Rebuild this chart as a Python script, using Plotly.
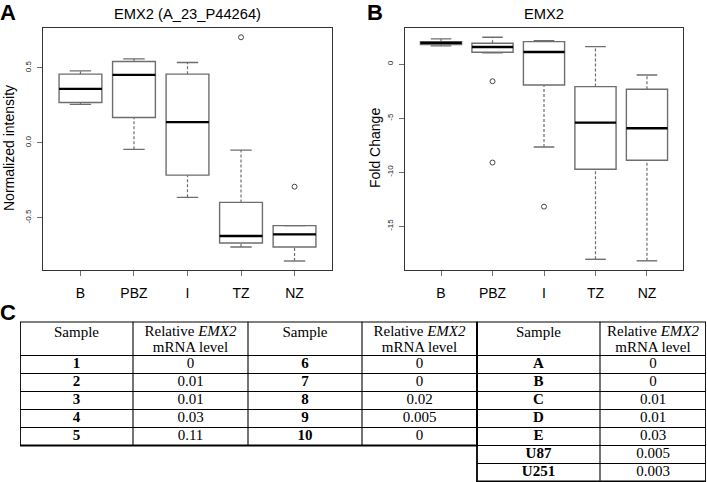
import plotly.graph_objects as go

# ---------------- data ----------------
categories = ["B", "PBZ", "I", "TZ", "NZ"]

# Panel A: EMX2 (A_23_P44264) normalized intensity (box statistics)
a_lower = [0.256, -0.044, -0.364, -0.696, -0.789]
a_q1 = [0.269, 0.169, -0.216, -0.669, -0.696]
a_median = [0.360, 0.453, 0.138, -0.622, -0.611]
a_q3 = [0.458, 0.542, 0.458, -0.398, -0.553]
a_upper = [0.480, 0.560, 0.536, -0.049, -0.553]
a_outlier_cat = ["TZ", "NZ"]
a_outlier_val = [0.704, -0.293]

# Panel B: EMX2 fold change
b_lower = [1.70, 1.05, -7.66, -18.06, -18.2]
b_q1 = [1.82, 1.11, -1.92, -9.72, -8.89]
b_median = [1.98, 1.60, 1.14, -5.40, -5.93]
b_q3 = [2.10, 1.94, 2.10, -2.07, -2.32]
b_upper = [2.35, 2.50, 2.19, 1.63, -0.99]
b_outlier_cat = ["PBZ", "PBZ", "I"]
b_outlier_val = [-1.57, -9.10, -13.18]

a_ticks = [0.5, 0.0, -0.5]
a_ticktext = ["0.5", "0.0", "-0.5"]
b_ticks = [0, -5, -10, -15]
b_ticktext = ["0", "-5", "-10", "-15"]

# Panel C: table
header_sample = "Sample"
header_level_1 = "Relative <i>EMX2</i>"
header_level_2 = "mRNA level"
t1_samples = ["1", "2", "3", "4", "5"]
t1_levels = ["0", "0.01", "0.01", "0.03", "0.11"]
t2_samples = ["6", "7", "8", "9", "10"]
t2_levels = ["0", "0", "0.02", "0.005", "0"]
t3_samples = ["A", "B", "C", "D", "E", "U87", "U251"]
t3_levels = ["0", "0", "0.01", "0.01", "0.03", "0.005", "0.003"]

# ---------------- styling ----------------
W, H = 707, 482
BOX_HALF = 0.4
CAP_HALF = 0.2
BOX_COL = "#6e6e6e"
FRAME_COL = "#333333"
SANS = "Liberation Sans, Arial, sans-serif"
SERIF = "Liberation Serif, Times New Roman, serif"

fig = go.Figure()
pos = {c: i + 1 for i, c in enumerate(categories)}


def add_panel(xref, yref, lower, q1, med, q3, upper, out_cat, out_val):
    xs = [pos[c] for c in categories]
    wx, wy = [], []
    for x, lo, a, b, up in zip(xs, lower, q1, q3, upper):
        wx += [x, x, None, x, x, None]
        wy += [lo, a, None, b, up, None]
    fig.add_trace(go.Scatter(x=wx, y=wy, mode="lines", xaxis=xref, yaxis=yref,
                             line=dict(color=BOX_COL, width=1.2, dash="3px,2px"),
                             hoverinfo="skip"))
    cx, cy = [], []
    for x, lo, up in zip(xs, lower, upper):
        cx += [x - CAP_HALF, x + CAP_HALF, None, x - CAP_HALF, x + CAP_HALF, None]
        cy += [lo, lo, None, up, up, None]
    fig.add_trace(go.Scatter(x=cx, y=cy, mode="lines", xaxis=xref, yaxis=yref,
                             line=dict(color=BOX_COL, width=1.4), hoverinfo="skip"))
    fig.add_trace(go.Box(x=xs, q1=q1, median=med, q3=q3, lowerfence=q1, upperfence=q3,
                         xaxis=xref, yaxis=yref, width=2 * BOX_HALF,
                         fillcolor="white", line=dict(color=BOX_COL, width=1.4),
                         whiskerwidth=0, boxpoints=False, hoverinfo="skip"))
    mx, my = [], []
    for x, m in zip(xs, med):
        mx += [x - BOX_HALF, x + BOX_HALF, None]
        my += [m, m, None]
    fig.add_trace(go.Scatter(x=mx, y=my, mode="lines", xaxis=xref, yaxis=yref,
                             line=dict(color="black", width=2.4), hoverinfo="skip"))
    fig.add_trace(go.Scatter(x=[pos[c] for c in out_cat], y=out_val, mode="markers",
                             xaxis=xref, yaxis=yref,
                             marker=dict(symbol="circle-open", size=5, color="#444",
                                         line=dict(width=1)),
                             hoverinfo="skip"))


add_panel("x", "y", a_lower, a_q1, a_median, a_q3, a_upper, a_outlier_cat, a_outlier_val)
add_panel("x2", "y2", b_lower, b_q1, b_median, b_q3, b_upper, b_outlier_cat, b_outlier_val)

# ---------------- table (panel C) drawn on its own axes ----------------
COL_W = [113, 115, 114, 115, 123, 106]   # column widths (layout)
HEAD_H, ROW_H = 34, 18                   # header / row heights (layout)
edges = [0]
for w in COL_W:
    edges.append(edges[-1] + w)
centers = [(edges[i] + edges[i + 1]) / 2 for i in range(len(COL_W))]

blocks = [  # (first column, last column, rows of the block)
    (0, 4, len(t1_samples)),
    (4, 6, len(t3_samples)),
]
columns = [
    (t1_samples, True), (t1_levels, False),
    (t2_samples, True), (t2_levels, False),
    (t3_samples, True), (t3_levels, False),
]

inner_x, inner_y, outer_x, outer_y = [], [], [], []
for c0, c1, nrows in blocks:
    x0, x1 = edges[c0], edges[c1]
    y_bottom = HEAD_H + nrows * ROW_H
    for r in range(nrows):
        yy = HEAD_H + r * ROW_H
        inner_x += [x0, x1, None]
        inner_y += [yy, yy, None]
    for c in range(c0 + 1, c1):
        inner_x += [edges[c], edges[c], None]
        inner_y += [0, y_bottom, None]
    outer_x += [x0, x1, x1, x0, x0, None]
    outer_y += [0, 0, y_bottom, y_bottom, 0, None]

fig.add_trace(go.Scatter(x=inner_x, y=inner_y, mode="lines", xaxis="x3", yaxis="y3",
                         line=dict(color="black", width=1.1), hoverinfo="skip",
                         cliponaxis=False))
fig.add_trace(go.Scatter(x=outer_x, y=outer_y, mode="lines", xaxis="x3", yaxis="y3",
                         line=dict(color="black", width=1.8), hoverinfo="skip",
                         cliponaxis=False))

# header texts
hx, hy, ht = [], [], []
for i in range(len(COL_W)):
    if i % 2 == 0:
        hx += [centers[i]]
        hy += [11.5]
        ht += [header_sample]
    else:
        hx += [centers[i], centers[i]]
        hy += [11, 27]
        ht += [header_level_1, header_level_2]
fig.add_trace(go.Scatter(x=hx, y=hy, text=ht, mode="text", xaxis="x3", yaxis="y3",
                         textposition="middle center", hoverinfo="skip",
                         textfont=dict(family=SERIF, size=15, color="black"),
                         cliponaxis=False))

# body texts
bx, by, bt = [], [], []
for i, (vals, bold) in enumerate(columns):
    for r, v in enumerate(vals):
        bx.append(centers[i])
        by.append(HEAD_H + (r + 0.5) * ROW_H)
        bt.append("<b>%s</b>" % v if bold else v)
fig.add_trace(go.Scatter(x=bx, y=by, text=bt, mode="text", xaxis="x3", yaxis="y3",
                         textposition="middle center", hoverinfo="skip",
                         textfont=dict(family=SERIF, size=15, color="black"),
                         cliponaxis=False))

# ---------------- axes ----------------
xaxis_common = dict(range=[0.3, 5.7], tickvals=[pos[c] for c in categories], ticktext=categories,
                    ticks="outside", ticklen=5, tickcolor=BOX_COL, showline=True,
                    linecolor=FRAME_COL, linewidth=1, mirror=True, showgrid=False,
                    zeroline=False, tickfont=dict(family=SANS, size=14, color="black"),
                    ticklabelstandoff=5, fixedrange=True)
yaxis_common = dict(ticks="outside", ticklen=5, tickcolor=BOX_COL, showline=True,
                    linecolor=FRAME_COL, linewidth=1, mirror=True, showgrid=False,
                    zeroline=False, tickangle=-90, ticklabelstandoff=3,
                    tickfont=dict(family=SANS, size=8, color="#222"), fixedrange=True)
hidden = dict(visible=False, showgrid=False, zeroline=False, fixedrange=True)

ytop = 1 - 28.3 / H
ybot = 1 - 270 / H
tab_top = 1 - 321.5 / H
fig.update_layout(
    width=W, height=H, margin=dict(l=0, r=0, t=0, b=0),
    paper_bgcolor="white", plot_bgcolor="white", showlegend=False,
    xaxis=dict(domain=[43 / W, 332 / W], anchor="y", **xaxis_common),
    yaxis=dict(domain=[ybot, ytop], anchor="x", range=[-0.849, 0.764],
               tickvals=a_ticks, ticktext=a_ticktext, **yaxis_common),
    xaxis2=dict(domain=[405 / W, 683 / W], anchor="y2", **xaxis_common),
    yaxis2=dict(domain=[ybot, ytop], anchor="x2", range=[-19.05, 3.33],
                tickvals=b_ticks, ticktext=b_ticktext, **yaxis_common),
    xaxis3=dict(domain=[20 / W, 706 / W], anchor="y3", range=[0, edges[-1]], **hidden),
    yaxis3=dict(domain=[0, tab_top], anchor="x3",
                range=[tab_top * H, 0], **hidden),
)

ann = [
    dict(text="EMX2 (A_23_P44264)", x=187.5 / W, y=1 - 14 / H, size=14.7, bold=False),
    dict(text="EMX2", x=544 / W, y=1 - 14 / H, size=14.7, bold=False),
    dict(text="A", x=8 / W, y=1 - 12 / H, size=22, bold=True),
    dict(text="B", x=375 / W, y=1 - 12 / H, size=22, bold=True),
    dict(text="C", x=8 / W, y=1 - 312 / H, size=22, bold=True),
]
for a in ann:
    fig.add_annotation(text=("<b>%s</b>" % a["text"]) if a["bold"] else a["text"],
                       x=a["x"], y=a["y"], xref="paper", yref="paper",
                       xanchor="center", yanchor="middle", showarrow=False,
                       font=dict(family=SANS, size=a["size"], color="black"))
for txt, x in [("Normalized intensity", 9), ("Fold Change", 375)]:
    fig.add_annotation(text=txt, x=x / W, y=1 - 148 / H, xref="paper", yref="paper",
                       xanchor="center", yanchor="middle", showarrow=False, textangle=-90,
                       font=dict(family=SANS, size=14, color="black"))

fig.write_html("out.html", config={"displayModeBar": False},
               post_script="document.body.style.margin='0';document.body.style.overflow='hidden';")
